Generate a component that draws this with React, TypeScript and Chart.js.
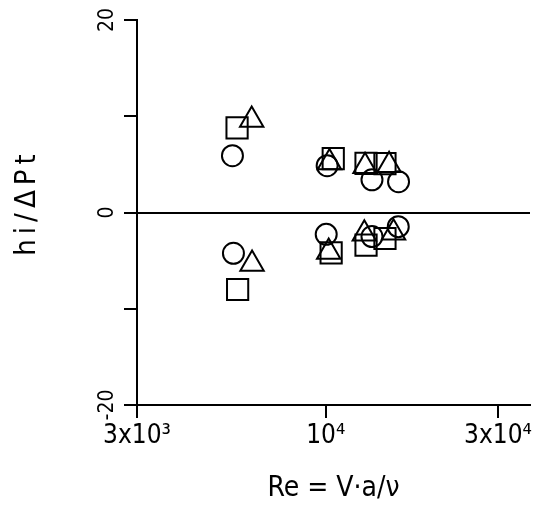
import React, { useEffect, useRef } from "react";
import { Chart, registerables } from "chart.js";

Chart.register(...registerables);

// Re = V·a/ν values and hi/ΔPt values
const circleRe = [5515, 10090, 13430, 15910, 5550, 10030, 13430, 15880];
const circleH = [5.9, 4.86, 3.4, 3.2, -4.24, -2.27, -2.5, -1.47];

const squareRe = [5680, 10490, 12930, 14590, 5700, 10350, 12930, 14590];
const squareH = [8.8, 5.6, 5.1, 5.07, -8.0, -4.2, -3.4, -2.7];

const triangleRe = [6235, 10240, 12850, 14980, 6250, 10190, 12790, 15410];
const triangleH = [9.6, 5.2, 4.8, 4.9, -5.35, -4.1, -2.2, -2.1];

const xTickValues = [3000, 10000, 30000];
const xTickLabels = ["3x10³", "10⁴", "3x10⁴"];
const yTickValues = [-20, -10, 0, 10, 20];
const yTickLabels = ["-20", "", "0", "", "20"];

const xTitle = "Re = V·a/ν";
const yTitle = "hi/ΔPt";

const FONT = "'DejaVu Sans', sans-serif";
const STRETCH = "condensed";

const pts = (xs: number[], ys: number[]) => xs.map((x, i) => ({ x, y: ys[i] }));

const titleSpacing: any = {
  id: "titleSpacing",
  beforeDraw(chart: any) {
    const spacing: Record<string, number> = { x: 0, y: 5 };
    const shiftY: Record<string, number> = { x: 0, y: -10 };
    Object.keys(spacing).forEach((id) => {
      const s: any = chart.scales[id];
      if (s && !s._lsPatched) {
        const orig = s.drawTitle.bind(s);
        s.drawTitle = () => {
          const ctx: any = chart.ctx;
          ctx.save();
          ctx.letterSpacing = spacing[id] + "px";
          ctx.translate(0, shiftY[id]);
          orig();
          ctx.restore();
        };
        s._lsPatched = true;
      }
    });
  },
};

export default function App() {
  const ref = useRef<HTMLCanvasElement | null>(null);

  useEffect(() => {
    if (!ref.current) return;
    const common = {
      showLine: false,
      borderColor: "#000",
      backgroundColor: "rgba(0,0,0,0)",
      pointBorderWidth: 2,
      pointBackgroundColor: "rgba(0,0,0,0)",
      pointBorderColor: "#000",
    };
    const chart = new Chart(ref.current, {
      type: "scatter",
      data: {
        datasets: [
          { ...common, label: "circle", data: pts(circleRe, circleH), pointStyle: "circle", pointRadius: 10.5 },
          { ...common, label: "square", data: pts(squareRe, squareH), pointStyle: "rect", pointRadius: 15 },
          { ...common, label: "triangle", data: pts(triangleRe, triangleH), pointStyle: "triangle", pointRadius: 13.5 },
        ],
      },
      options: {
        animation: false,
        responsive: false,
        events: [],
        layout: { autoPadding: false, padding: { top: 20, right: 6, left: 0, bottom: 0 } },
        plugins: { legend: { display: false }, tooltip: { enabled: false } },
        scales: {
          x: {
            type: "logarithmic",
            position: "bottom",
            min: 3000,
            max: 36800,
            afterBuildTicks: (s: any) => {
              s.ticks = xTickValues.map((v) => ({ value: v }));
            },
            afterFit: (s: any) => {
              s.height = 104;
              s.paddingLeft = 0;
              s.paddingRight = 0;
            },
            grid: {
              drawOnChartArea: false,
              drawTicks: true,
              tickLength: 13,
              tickColor: "#000",
              tickWidth: 2,
              lineWidth: 2,
            },
            border: { display: true, color: "#000", width: 2 },
            ticks: {
              autoSkip: false,
              maxRotation: 0,
              minRotation: 0,
              padding: 3,
              color: "#000",
              font: { family: FONT, size: 26, weight: STRETCH },
              callback: (_v: any, i: number) => xTickLabels[i] ?? "",
            },
            title: {
              display: true,
              text: xTitle,
              color: "#000",
              font: { family: FONT, size: 28, weight: STRETCH },
              padding: { top: 0, bottom: 3 },
            },
          },
          y: {
            type: "linear",
            min: -20,
            max: 20,
            afterBuildTicks: (s: any) => {
              s.ticks = yTickValues.map((v) => ({ value: v }));
            },
            afterFit: (s: any) => {
              s.width = 137;
              s.paddingTop = 0;
              s.paddingBottom = 0;
            },
            grid: {
              drawOnChartArea: true,
              drawTicks: true,
              tickLength: 13,
              tickColor: "#000",
              tickWidth: 2,
              lineWidth: 2,
              color: (c: any) => (c.tick && c.tick.value === 0 ? "#000" : "rgba(0,0,0,0)"),
            },
            border: { display: true, color: "#000", width: 2 },
            ticks: {
              autoSkip: false,
              minRotation: 90,
              maxRotation: 90,
              crossAlign: "center",
              padding: 1,
              color: "#000",
              font: { family: FONT, size: 21, weight: STRETCH },
              callback: (_v: any, i: number) => yTickLabels[i] ?? "",
            },
            title: {
              display: true,
              text: yTitle,
              color: "#000",
              font: { family: FONT, size: 29, weight: STRETCH },
              padding: { top: 10, bottom: 0 },
            },
          },
        },
      } as any,
      plugins: [titleSpacing],
    });
    return () => chart.destroy();
  }, []);

  return (
    <div style={{ position: "fixed", left: 0, top: 0, width: 536, height: 509, background: "#fff" }}>
      <canvas ref={ref} width={536} height={509} style={{ display: "block" }} />
    </div>
  );
}
